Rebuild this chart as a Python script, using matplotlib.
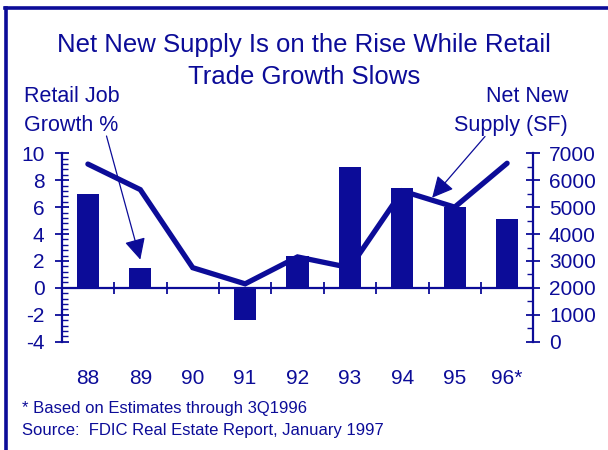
import matplotlib
matplotlib.use("Agg")
from matplotlib import pyplot as plt
from matplotlib.ticker import MultipleLocator, FixedLocator, NullFormatter
import numpy as np

years = ["88", "89", "90", "91", "92", "93", "94", "95", "96*"]
job_growth = [7.0, 1.5, -0.1, -2.4, 2.4, 9.0, 7.4, 6.0, 5.1]
net_supply = [6600, 5650, 2750, 2150, 3150, 2750, 5600, 5000, 6630]

NAVY = "#0c0c98"
plt.rcParams["font.family"] = ["Liberation Sans", "DejaVu Sans"]
plt.rcParams["axes.unicode_minus"] = False

W, H = 608, 450


def fx(px):
    return px / W


def fy(py):
    return 1 - py / H


fig = plt.figure(figsize=(6.08, 4.5), dpi=100)
ax = fig.add_axes([fx(61.7), fy(341.7), (533.3 - 61.7) / W, (341.7 - 153.3) / H])
ax2 = ax.twinx()

x = np.arange(len(years))
ax.bar(x, job_growth, width=0.42, color=NAVY, zorder=3)
ax2.plot(x, net_supply, color=NAVY, lw=3.8, solid_joinstyle="miter", solid_capstyle="round")

# bars drawn over the line
ax.set_zorder(ax2.get_zorder() + 1)
ax.patch.set_visible(False)

ax.set_xlim(-0.5, 8.5)
ax.set_ylim(-4, 10)
ax2.set_ylim(0, 7000)

for a in (ax, ax2):
    a.spines["top"].set_visible(False)
ax.spines["right"].set_visible(False)
ax2.spines["left"].set_visible(False)
ax2.spines["bottom"].set_visible(False)
ax.spines["bottom"].set_position(("data", 0))
for s in (ax.spines["left"], ax.spines["bottom"], ax2.spines["right"]):
    s.set_color(NAVY)
    s.set_linewidth(1.6)

ax.yaxis.set_major_locator(MultipleLocator(2))
ax.yaxis.set_minor_locator(MultipleLocator(0.4))
ax.tick_params(axis="y", which="major", direction="inout", length=9.6, width=1.3,
               color=NAVY, labelcolor=NAVY, labelsize=15, pad=7.5)
ax.tick_params(axis="y", which="minor", direction="in", length=4.6, width=1.0, color=NAVY)

ax2.yaxis.set_major_locator(MultipleLocator(1000))
ax2.yaxis.set_minor_locator(MultipleLocator(500))
ax2.tick_params(axis="y", which="major", direction="inout", length=9.6, width=1.3,
                color=NAVY, labelcolor=NAVY, labelsize=15, pad=6.5)
ax2.tick_params(axis="y", which="minor", direction="in", length=4.6, width=1.0, color=NAVY)

ax.xaxis.set_major_locator(FixedLocator(x[:-1] + 0.5))
ax.xaxis.set_major_formatter(NullFormatter())
ax.tick_params(axis="x", which="major", direction="inout", length=9, width=1.3, color=NAVY)

for xi, lab in zip(x, years):
    ax.text(xi, -0.193, lab, transform=ax.get_xaxis_transform(), ha="center", va="center",
            fontsize=15, color=NAVY)

fig.text(0.5, fy(61), "Net New Supply Is on the Rise While Retail\nTrade Growth Slows",
         ha="center", va="center", fontsize=18.5, color=NAVY, linespacing=1.42)
fig.text(fx(24), fy(111), "Retail Job\nGrowth %", ha="left", va="center",
         fontsize=15.5, color=NAVY, linespacing=1.5)
fig.text(fx(568), fy(111), "Net New\nSupply (SF)", ha="right", va="center",
         fontsize=15.5, color=NAVY, linespacing=1.5, multialignment="right")
fig.text(fx(22), fy(408), "* Based on Estimates through 3Q1996", ha="left", va="center",
         fontsize=12, color=NAVY)
fig.text(fx(22), fy(431), "Source:  FDIC Real Estate Report, January 1997", ha="left",
         va="center", fontsize=12, color=NAVY)

arrow_style = dict(arrowstyle="-|>,head_length=1.0,head_width=0.5", color=NAVY, lw=0.9,
                   mutation_scale=13, shrinkA=0, shrinkB=0)
ax.annotate("", xy=(1.0, 2.1), xycoords="data", xytext=(fx(106.5), fy(136)),
            textcoords="figure fraction", arrowprops=arrow_style)
ax.annotate("", xy=(6.57, 6.7), xycoords="data", xytext=(fx(485), fy(136.5)),
            textcoords="figure fraction", arrowprops=arrow_style)

# frame on the left and top edges
fig.add_artist(plt.Line2D([fx(6), fx(6)], [0, fy(7.5)], transform=fig.transFigure,
                          color=NAVY, lw=2.6))
fig.add_artist(plt.Line2D([fx(5), 1], [fy(7.5), fy(7.5)], transform=fig.transFigure,
                          color=NAVY, lw=2.6))

fig.savefig("out.png", dpi=100)
